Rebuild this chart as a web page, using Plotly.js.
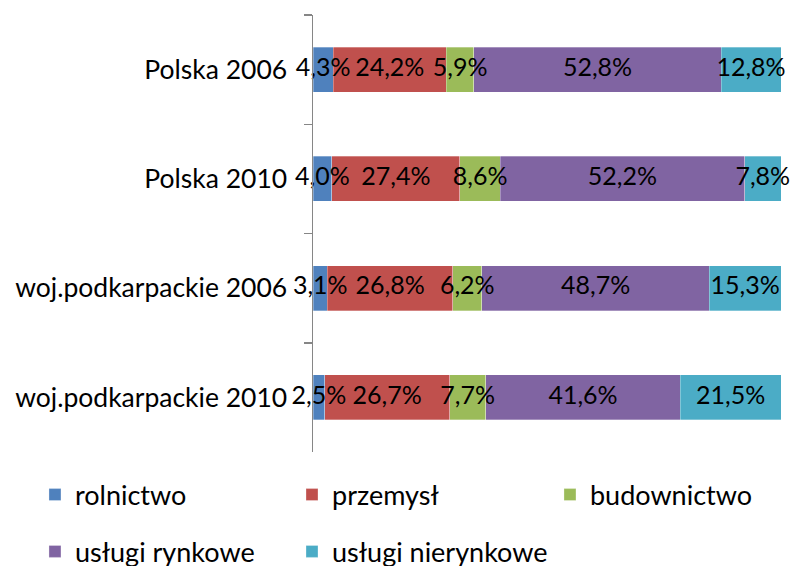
<!DOCTYPE html>
<html>
<head>
<meta charset="utf-8">
<script src="https://cdn.plot.ly/plotly-3.0.1.min.js"></script>
<style>
  html, body { margin: 0; padding: 0; background: #fff; }
  #chart { width: 795px; height: 566px; }
</style>
</head>
<body>
<div id="chart"></div>
<script>
const categories = ["Polska 2006", "Polska 2010", "woj.podkarpackie 2006", "woj.podkarpackie 2010"];

const seriesNames = ["rolnictwo", "przemysł", "budownictwo", "usługi rynkowe", "usługi nierynkowe"];
const rolnictwo = [4.3, 4.0, 3.1, 2.5];
const przemysl = [24.2, 27.4, 26.8, 26.7];
const budownictwo = [5.9, 8.6, 6.2, 7.7];
const uslugiRynkowe = [52.8, 52.2, 48.7, 41.6];
const uslugiNierynkowe = [12.8, 7.8, 15.3, 21.5];

const seriesValues = [rolnictwo, przemysl, budownictwo, uslugiRynkowe, uslugiNierynkowe];
const colors = ["#4F81BD", "#C0504D", "#9BBB59", "#8064A2", "#4BACC6"];

const FONT = "Lato, 'Liberation Sans', sans-serif";

// label like Excel with comma as decimal separator
const fmt = v => v.toFixed(1).replace(".", ",") + "%";

// legend slots: [x, y] of each entry in the container (Excel puts them in a grid)
const legendSlots = [[0.044, 0.1254], [0.3673, 0.1254], [0.6918, 0.1254], [0.044, 0.025], [0.3673, 0.025]];

const totals = categories.map((c, j) => seriesValues.reduce((s, vals) => s + vals[j], 0));

const data = [];
seriesValues.forEach((vals, i) => {
  const legendId = i === 0 ? "legend" : "legend" + (i + 1);
  data.push({
    type: "bar",
    orientation: "h",
    name: seriesNames[i],
    y: categories,
    x: vals,
    textposition: "none",
    marker: { color: colors[i], line: { color: "rgba(255,255,255,0.6)", width: 0.5 } },
    hoverinfo: "none",
    legend: legendId,
  });
});

// data labels go on top of all bars so neighbouring segments do not hide them
const labelX = [], labelY = [], labelText = [];
seriesValues.forEach((vals, i) => {
  vals.forEach((v, j) => {
    let before = 0;
    for (let k = 0; k < i; k++) before += seriesValues[k][j];
    labelX.push(((before + v / 2) / totals[j]) * 100);
    labelY.push(categories[j]);
    labelText.push(fmt(v));
  });
});
data.push({
  type: "scatter",
  mode: "text",
  x: labelX,
  y: labelY,
  text: labelText,
  textposition: "middle center",
  textfont: { family: FONT, size: 25, color: "#000" },
  cliponaxis: false,
  showlegend: false,
  hoverinfo: "none",
});

const layout = {
  width: 795,
  height: 566,
  margin: { l: 313, r: 14, t: 15, b: 114 },
  paper_bgcolor: "#fff",
  plot_bgcolor: "#fff",
  barmode: "stack",
  barnorm: "percent",
  bargap: 0.59,
  showlegend: true,
  xaxis: {
    range: [0, 100],
    visible: false,
    fixedrange: true,
  },
  yaxis: {
    type: "category",
    autorange: "reversed",
    showline: true,
    linecolor: "#868686",
    linewidth: 1.5,
    ticks: "outside",
    tickson: "boundaries",
    ticklen: 8,
    tickcolor: "#868686",
    tickwidth: 1.5,
    ticklabelstandoff: 19,
    tickfont: { family: FONT, size: 26.5, color: "#000" },
    showgrid: false,
    zeroline: false,
  },
};

legendSlots.forEach((pos, i) => {
  const legendId = i === 0 ? "legend" : "legend" + (i + 1);
  layout[legendId] = {
    orientation: "h",
    xanchor: "left",
    yanchor: "middle",
    xref: "container",
    yref: "container",
    x: pos[0],
    y: pos[1],
    font: { family: FONT, size: 27, color: "#000" },
    bgcolor: "rgba(0,0,0,0)",
  };
});

Plotly.newPlot("chart", data, layout, { displayModeBar: false, staticPlot: true });
</script>
</body>
</html>
